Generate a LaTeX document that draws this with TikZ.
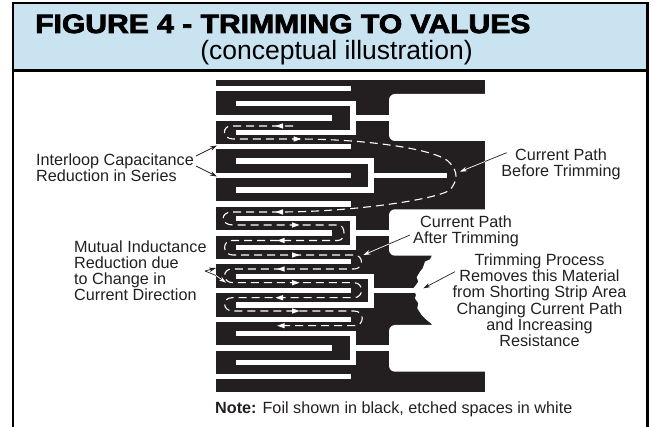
\documentclass[tikz,border=0pt]{standalone}
\usepackage{fontspec}
\usepackage{graphicx}
\setmainfont{Liberation Sans}
\newfontfamily\heavyfont[FakeBold=3,FakeStretch=1.135]{Liberation Sans Bold}
\definecolor{foil}{HTML}{231F20}
\definecolor{headblue}{HTML}{CAE3F1}
\newcommand{\shortcomb}[3]{% top, mid, bottom
  \draw[etch] (235.7,#1) -- (353,#1) -- (353,#3) -- (235.7,#3);
  \draw[etch] (216,#2) -- (331.7,#2);
  \draw[etch] (353,#2) -- (389,#2);}
\newcommand{\longcomb}[4]{% top, mid, bottom, stub end
  \draw[etch] (235.7,#1) -- (371,#1) -- (371,#3) -- (235.7,#3);
  \draw[etch] (216,#2) -- (350.7,#2);
  \draw[etch] (371,#2) -- (#4,#2);}
\newcommand{\headL}[2]{\fill[white] (#1-4.5,#2) -- (#1+3,#2-2.7) -- (#1+3,#2+2.7) -- cycle;}
\newcommand{\headR}[2]{\fill[white] (#1+4.5,#2) -- (#1-3,#2-2.7) -- (#1-3,#2+2.7) -- cycle;}
\tikzset{
  etch/.style={draw=white,line width=5.4pt,miter limit=10},
  hole/.style={fill=white,rounded corners=6pt},
  pathdash/.style={draw=white,line width=1.1pt,dash pattern=on 8pt off 5pt},
  frame/.style={draw=black,line width=2.6pt},
  lab/.style={inner sep=0pt,text=foil,font=\fontsize{16.2}{16.3}\selectfont,anchor=base},
  outarrow/.style={draw=foil,line width=0.7pt},
  inarrow/.style={draw=white,line width=0.7pt},
  tipblack/.style={draw=foil,line width=0.7pt,-{Stealth[length=7pt,width=4.5pt]}},
  tipwhite/.style={draw=white,line width=0.7pt,-{Stealth[length=7pt,width=4.5pt]}},
}
\usetikzlibrary{arrows.meta}
\begin{document}
\begin{tikzpicture}[x=1pt,y=-1pt]
\useasboundingbox (0,0) rectangle (654,427);
% header and frame
\fill[headblue] (13,3) rectangle (647.5,70.7);
\draw[frame] (13,427) -- (13,3) -- (647.5,3) -- (647.5,427);
\draw[frame] (13,70.7) -- (647.5,70.7);
\node[inner sep=0pt,anchor=base west] (title) at (35,33) {\fontsize{26.5}{27}\heavyfont FIGURE 4 - TRIMMING TO VALUES};
\node[inner sep=0pt,anchor=base] (subtitle) at (336.5,59.5) {\fontsize{26.5}{27}\selectfont (conceptual illustration)};
% foil
\fill[foil] (216,80) rectangle (485,392);
\fill[hole] (389,94) rectangle (500,141);
\fill[hole] (389,209.3) rectangle (500,255.7);
\fill[hole] (389,325) rectangle (500,371.7);
\fill[white] (431.7,255) -- (431.7,256) -- (430,259.3) -- (425,261.7) -- (422.7,268.3) -- (420,271.7) -- (416.7,277.3) -- (418.3,281.7) -- (416,285) -- (413.3,288.3) -- (416,295) -- (415,298.3) -- (418.3,303.3) -- (417.3,308.3) -- (421.7,315) -- (426.7,320) -- (431.7,324) -- (431.7,326) -- (490,326) -- (490,255) -- cycle;
\foreach \y in {88.3,146.7,204.2,261.8,319.3,376.8}
  \draw[etch] (216,\y) -- (350.7,\y);
\shortcomb{103.8}{118}{132.6}
\longcomb{161}{175.5}{190}{446.7}
\shortcomb{218.8}{233}{247.8}
\longcomb{276.7}{290.3}{305}{415}
\shortcomb{333.8}{348}{362.8}
% current path
\draw[pathdash] (293,126) -- (231,126) .. controls (222,126) and (222,139) .. (233,139) -- (297,139)
  .. controls (370,139) and (440,150) .. (450,163) .. controls (458,172) and (458,180) .. (450,190)
  .. controls (435,200) and (350,212) .. (280,212) -- (232,212)
  .. controls (220,212) and (220,225) .. (233,225) -- (338,225)
  .. controls (346,225) and (346,240.5) .. (338,240.5) -- (232,240.5)
  .. controls (222,240.5) and (222,255) .. (233,255) -- (354,255)
  .. controls (364,255) and (364,269) .. (354,269) -- (232,269)
  .. controls (222,269) and (222,282.7) .. (233,282.7) -- (354,282.7)
  .. controls (364,282.7) and (364,297.7) .. (354,297.7) -- (232,297.7)
  .. controls (222,297.7) and (222,311) .. (233,311) -- (354,311)
  .. controls (365,311) and (365,325.7) .. (354,325.7) -- (281,325.7);
\headL{280}{126}\headR{296.7}{139}\headL{280}{212}\headR{295}{225}
\headL{281.7}{240.5}\headR{295}{255}\headL{281.7}{269}\headR{295}{282.7}
\headL{280}{297.7}\headR{295}{311}\headL{281.7}{325.7}
% labels
\node[lab,align=center] (before) at (561,176.7) {Current Path\\Before Trimming};
\node[lab,align=center] (after) at (466,243.7) {Current Path\\After Trimming};
\node[lab,align=center] (process) at (539.5,346.7) {Trimming Process\\Removes this Material\\from Shorting Strip Area\\Changing Current Path\\and Increasing\\Resistance};
\node[lab,align=left,anchor=base west] (interloop) at (36,181.7) {Interloop Capacitance\\Reduction in Series};
\node[lab,align=left,anchor=base west] (mutual) at (74,301) {Mutual Inductance\\Reduction due\\to Change in\\Current Direction};
\node[lab,anchor=base west] (note) at (215,414) {\textbf{Note:} Foil shown in black, etched spaces in white};
% connectors
\coordinate (b0) at (506.7,152.7); \coordinate (b1) at (485,161.5); \coordinate (b2) at (460,171.7);
\draw[outarrow] (b0) -- (b1); \draw[tipwhite] (b1) -- (b2);
\coordinate (a0) at (410,235); \coordinate (a1) at (389,244); \coordinate (a2) at (363.3,255);
\draw[outarrow] (a0) -- (a1); \draw[tipwhite] (a1) -- (a2);
\coordinate (p0) at (455,271.7); \coordinate (p1) at (423.3,288.3);
\draw[tipblack] (p0) -- (p1);
\coordinate (i0) at (196,156); \coordinate (i1) at (217,145.5);
\coordinate (i2) at (196,166); \coordinate (i3) at (217,176.5);
\draw[tipblack] (i0) -- (i1); \draw[tipblack] (i2) -- (i3);
\coordinate (m0) at (205,271); \coordinate (m1) at (216,268); \coordinate (m2) at (216,275.5); \coordinate (m3) at (226,282.7);
\draw[tipblack] (m0) -- (m1);
\draw[outarrow] (m0) -- (m2); \draw[tipwhite] (m2) -- (m3);
\end{tikzpicture}
\end{document}
